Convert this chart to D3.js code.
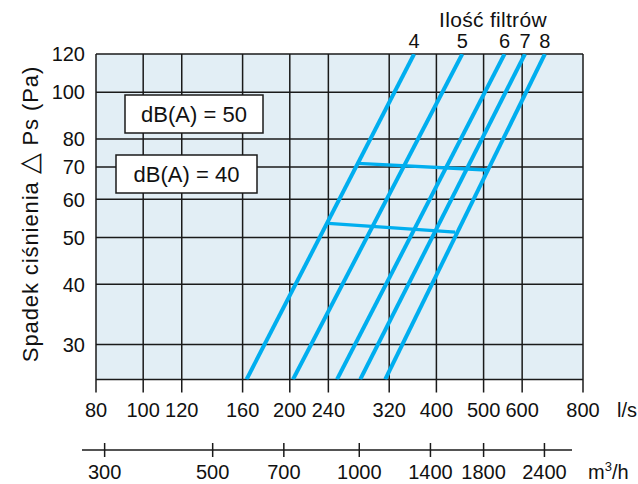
<!DOCTYPE html>
<meta charset="utf-8">
<style>
body { margin:0; background:#fff; }
svg text { font-family: "Liberation Sans", Arial, Helvetica, sans-serif; fill:#111; font-size:20px; }
</style>
<body>
<svg width="638" height="484" id="vis"></svg>
</body>
<script src="https://d3js.org/d3.v7.min.js"></script>
<script>
// values
var xTicks = [80, 100, 120, 160, 200, 240, 320, 400, 500, 600, 800];   // l/s
var yTicks = [30, 40, 50, 60, 70, 80, 100, 120];                     // Pa
var m3hTicks = [300, 500, 700, 1000, 1400, 1800, 2400];              // m3/h
var filterCounts = ["4", "5", "6", "7", "8"];
var qAtBottom = [163, 203, 250, 279, 314];   // l/s where each line leaves the bottom (25.4 Pa)
var qAtTop = [360, 452, 552, 608, 668];      // l/s at 120 Pa
var pBottom = 25.4, pTop = 120;
var db50Q = [276, 507], db50P = [71.2, 69.0];
var db40Q = [240, 437], db40P = [53.5, 51.3];
var dbLabels = ["dB(A) = 50", "dB(A) = 40"];

var svg = d3.select("svg");
var pl = 96, pr = 583, pt = 54, pb = 379.5;

var x = d3.scaleLog().domain([80, 800]).range([pl, pr]);
var y = d3.scaleLog().domain([pBottom, pTop]).range([pb, pt]);

var blue = "#00aeef", ink = "#1a1a1a";

svg.append("defs").append("clipPath").attr("id", "plot")
  .append("rect").attr("x", pl).attr("y", pt)
  .attr("width", pr - pl).attr("height", pb - pt);

svg.append("rect")
  .attr("x", pl).attr("y", pt)
  .attr("width", pr - pl).attr("height", pb - pt)
  .attr("fill", "#e2eef5");

var g = svg.append("g");

// grid
g.selectAll(".vgrid").data(xTicks).enter().append("line")
  .attr("class", "vgrid")
  .attr("x1", function(d) { return x(d); }).attr("x2", function(d) { return x(d); })
  .attr("y1", pt).attr("y2", pb + 13)
  .attr("stroke", ink).attr("stroke-width", 1.5);

g.selectAll(".hgrid").data(yTicks.concat([pBottom])).enter().append("line")
  .attr("class", "hgrid")
  .attr("x1", pl).attr("x2", pr)
  .attr("y1", function(d) { return y(d); }).attr("y2", function(d) { return y(d); })
  .attr("stroke", ink).attr("stroke-width", 1.5);

// filter lines
var line = d3.line().x(function(d) { return x(d[0]); }).y(function(d) { return y(d[1]); });
var lines = svg.append("g").attr("clip-path", "url(#plot)");

lines.selectAll(".flt").data(filterCounts).enter().append("path")
  .attr("class", "flt")
  .attr("d", function(d, i) { return line([[qAtBottom[i], pBottom], [qAtTop[i], pTop]]); })
  .attr("fill", "none").attr("stroke", blue).attr("stroke-width", 4);

var dbData = [d3.zip(db50Q, db50P), d3.zip(db40Q, db40P)];
lines.selectAll(".db").data(dbData).enter().append("path")
  .attr("class", "db")
  .attr("d", line)
  .attr("fill", "none").attr("stroke", blue).attr("stroke-width", 3.4);

// dB(A) boxes
var boxes = [{x: 125, y: 95, w: 138, h: 38}, {x: 116, y: 155, w: 141, h: 38}];
var box = svg.selectAll(".box").data(dbLabels).enter().append("g").attr("class", "box");
box.append("rect")
  .attr("x", function(d, i) { return boxes[i].x; })
  .attr("y", function(d, i) { return boxes[i].y; })
  .attr("width", function(d, i) { return boxes[i].w; })
  .attr("height", function(d, i) { return boxes[i].h; })
  .attr("fill", "#fff").attr("stroke", ink).attr("stroke-width", 1.5);
box.append("text")
  .attr("x", function(d, i) { return boxes[i].x + boxes[i].w / 2; })
  .attr("y", function(d, i) { return boxes[i].y + boxes[i].h / 2; })
  .attr("dy", "0.36em")
  .attr("text-anchor", "middle")
  .style("font-size", "22px")
  .text(function(d) { return d; });

// y labels
svg.selectAll(".ylab").data(yTicks).enter().append("text")
  .attr("class", "ylab")
  .attr("x", 85).attr("y", function(d) { return y(d); })
  .attr("dy", "0.36em").attr("text-anchor", "end")
  .text(function(d) { return d; });

var ytitle = svg.append("text")
  .attr("transform", "translate(38," + 214 + ") rotate(-90)")
  .attr("text-anchor", "middle")
  .style("font-size", "22px")
  .style("letter-spacing", "0.9px");
ytitle.append("tspan").text("Spadek ciśnienia ");
ytitle.append("tspan").style("font-size", "27px").text("\u25B3");
ytitle.append("tspan").text(" Ps (Pa)");

// x labels (l/s)
svg.selectAll(".xlab").data(xTicks).enter().append("text")
  .attr("class", "xlab")
  .attr("x", function(d) { return x(d); }).attr("y", 417)
  .attr("text-anchor", "middle")
  .text(function(d) { return d; });
svg.append("text").attr("x", 617).attr("y", 417).text("l/s");

// second axis in m3/h
var m3 = svg.append("g");
m3.append("line")
  .attr("x1", pl - 14).attr("x2", pr - 11)
  .attr("y1", 450).attr("y2", 450)
  .attr("stroke", ink).attr("stroke-width", 1.5);
m3.selectAll(".m3tick").data(m3hTicks).enter().append("line")
  .attr("class", "m3tick")
  .attr("x1", function(d) { return x(d / 3.6); }).attr("x2", function(d) { return x(d / 3.6); })
  .attr("y1", 443).attr("y2", 457)
  .attr("stroke", ink).attr("stroke-width", 1.5);
m3.selectAll(".m3lab").data(m3hTicks).enter().append("text")
  .attr("class", "m3lab")
  .attr("x", function(d) { return x(d / 3.6); }).attr("y", 479)
  .attr("text-anchor", "middle")
  .text(function(d) { return d; });
var unit = m3.append("text").attr("x", 588).attr("y", 479);
unit.append("tspan").text("m");
unit.append("tspan").attr("dy", -8).style("font-size", "13px").text("3");
unit.append("tspan").attr("dy", 8).text("/h");

// filter count legend
svg.append("text").attr("x", 493).attr("y", 27).attr("text-anchor", "middle")
  .style("font-size", "21px").style("letter-spacing", "0.3px").text("Ilość filtrów");
svg.selectAll(".fnum").data(filterCounts).enter().append("text")
  .attr("class", "fnum")
  .attr("x", function(d, i) { return x(qAtTop[i]); }).attr("y", 48)
  .attr("text-anchor", "middle")
  .text(function(d) { return d; });
</script>
